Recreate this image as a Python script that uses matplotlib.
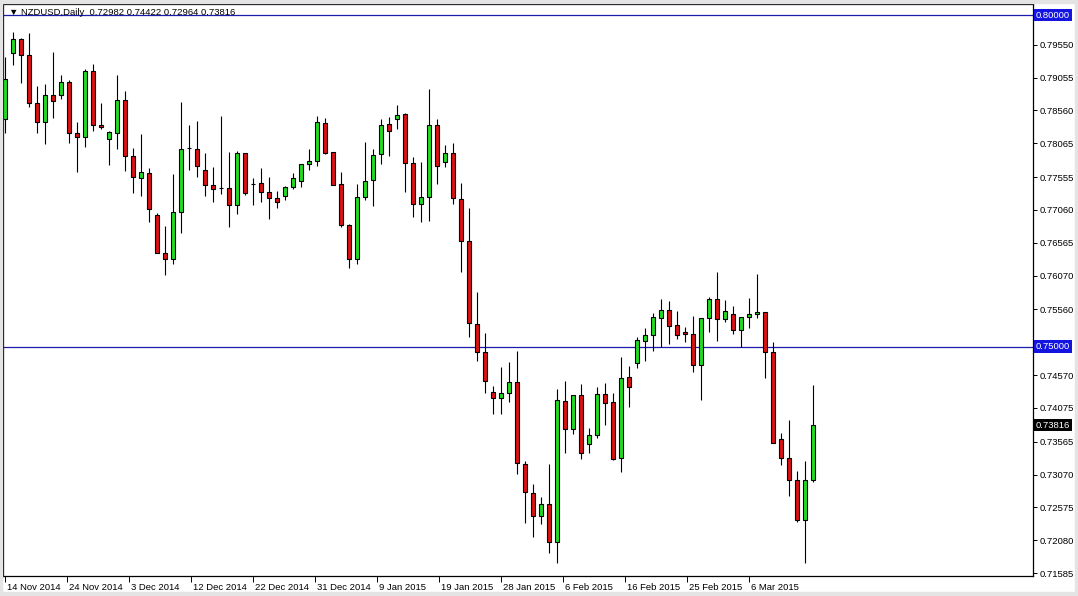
import numpy as np
import matplotlib
matplotlib.use('Agg')
from matplotlib import pyplot as plt
from matplotlib import transforms
from matplotlib.patches import Rectangle

plt.rcParams['font.family'] = ['Liberation Sans', 'DejaVu Sans']

# NZDUSD daily candles, 14 Nov 2014 .. 12 Mar 2015
opens = [0.78427, 0.79422, 0.79634, 0.79392, 0.78668, 0.78382, 0.78789, 0.78789, 0.78985, 0.78216,
         0.78156, 0.79151, 0.78337, 0.78126, 0.78216, 0.78714, 0.77869, 0.77537, 0.77613, 0.76979,
         0.76416, 0.76316, 0.77025, 0.77990, 0.77975, 0.77658, 0.77432, 0.77387, 0.77387, 0.77130,
         0.77914, 0.77456, 0.77462, 0.77326, 0.77240, 0.77266, 0.77411, 0.77492, 0.77749, 0.77798,
         0.78367, 0.77930, 0.77447, 0.76829, 0.76325, 0.77251, 0.77507, 0.77899, 0.78352, 0.78427,
         0.78503, 0.77764, 0.77145, 0.77251, 0.78337, 0.77779, 0.77914, 0.77221, 0.76587, 0.75340,
         0.74914, 0.74310, 0.74220, 0.74295, 0.74461, 0.73229, 0.72787, 0.72449, 0.72621, 0.72057,
         0.74179, 0.73761, 0.74265, 0.73526, 0.73662, 0.74280, 0.74159, 0.73312, 0.74536, 0.74745,
         0.75079, 0.75170, 0.75426, 0.75547, 0.75321, 0.75215, 0.75185, 0.74727, 0.75426, 0.75713,
         0.75411, 0.75487, 0.75245, 0.75441, 0.75487, 0.75517, 0.74914, 0.73602, 0.73315, 0.72983,
         0.72389, 0.72982]
highs = [0.79362, 0.79744, 0.79649, 0.79724, 0.78929, 0.78955, 0.79438, 0.79095, 0.79015, 0.78382,
         0.79181, 0.79261, 0.78668, 0.78246, 0.79095, 0.78854, 0.77990, 0.78201, 0.77688, 0.77010,
         0.76818, 0.77598, 0.78684, 0.78337, 0.78397, 0.77914, 0.77703, 0.78472, 0.77930, 0.77945,
         0.77914, 0.77537, 0.77688, 0.77553, 0.77341, 0.77421, 0.77613, 0.77749, 0.77975, 0.78477,
         0.78442, 0.77939, 0.77628, 0.76848, 0.77447, 0.78080, 0.77975, 0.78427, 0.78466, 0.78638,
         0.78518, 0.77863, 0.77779, 0.78880, 0.78427, 0.78035, 0.78065, 0.77462, 0.77085, 0.75818,
         0.75200, 0.74410, 0.74692, 0.74763, 0.74933, 0.73279, 0.72923, 0.72731, 0.73229, 0.74356,
         0.74481, 0.74274, 0.74431, 0.73767, 0.74395, 0.74446, 0.74295, 0.74838, 0.74707, 0.75140,
         0.75275, 0.75502, 0.75713, 0.75683, 0.75532, 0.75291, 0.75456, 0.75426, 0.75743, 0.76120,
         0.75698, 0.75607, 0.75441, 0.75728, 0.76090, 0.75517, 0.75073, 0.73692, 0.73888, 0.73119,
         0.73270, 0.74422]
lows = [0.78216, 0.79246, 0.78979, 0.78608, 0.78225, 0.78050, 0.78451, 0.78738, 0.78065, 0.77637,
        0.78005, 0.78246, 0.78276, 0.77743, 0.77975, 0.77652, 0.77320, 0.77275, 0.76874, 0.76406,
        0.76075, 0.76241, 0.76708, 0.77667, 0.77553, 0.77275, 0.77185, 0.77296, 0.76799, 0.76995,
        0.77281, 0.77130, 0.77173, 0.76919, 0.77085, 0.77206, 0.77372, 0.77402, 0.77658, 0.77727,
        0.77904, 0.77432, 0.76808, 0.76180, 0.76241, 0.77206, 0.77124, 0.77749, 0.77869, 0.78276,
        0.77335, 0.76949, 0.76874, 0.76898, 0.77447, 0.77703, 0.77145, 0.76129, 0.75140, 0.74787,
        0.74295, 0.73983, 0.73978, 0.74169, 0.73074, 0.72335, 0.72133, 0.72324, 0.71892, 0.71741,
        0.73400, 0.73677, 0.73309, 0.73400, 0.73626, 0.73817, 0.73289, 0.73113, 0.74093, 0.74677,
        0.74787, 0.74938, 0.74998, 0.75043, 0.75119, 0.75064, 0.74621, 0.74199, 0.75224, 0.75088,
        0.75366, 0.75185, 0.74989, 0.75275, 0.75426, 0.74521, 0.73541, 0.73210, 0.72751, 0.72350,
        0.71741, 0.72964]
closes = [0.79030, 0.79634, 0.79392, 0.78668, 0.78382, 0.78789, 0.78703, 0.78985, 0.78216, 0.78156,
          0.79151, 0.78337, 0.78307, 0.78231, 0.78714, 0.77869, 0.77553, 0.77628, 0.77070, 0.76416,
          0.76316, 0.77025, 0.77975, 0.77990, 0.77718, 0.77432, 0.77372, 0.77387, 0.77130, 0.77914,
          0.77311, 0.77456, 0.77326, 0.77236, 0.77176, 0.77411, 0.77537, 0.77749, 0.77798, 0.78382,
          0.77914, 0.77441, 0.76838, 0.76325, 0.77251, 0.77492, 0.77884, 0.78337, 0.78246, 0.78488,
          0.77764, 0.77145, 0.77251, 0.78337, 0.77718, 0.77914, 0.77233, 0.76587, 0.75351, 0.74914,
          0.74476, 0.74220, 0.74295, 0.74461, 0.73240, 0.72802, 0.72449, 0.72621, 0.72057, 0.74190,
          0.73761, 0.74265, 0.73400, 0.73662, 0.74280, 0.74144, 0.73309, 0.74521, 0.74383, 0.75092,
          0.75170, 0.75441, 0.75547, 0.75306, 0.75170, 0.75185, 0.74727, 0.75426, 0.75713, 0.75411,
          0.75532, 0.75245, 0.75441, 0.75487, 0.75517, 0.74914, 0.73541, 0.73315, 0.72983, 0.72389,
          0.72983, 0.73816]

date_labels = ['14 Nov 2014', '24 Nov 2014', '3 Dec 2014', '12 Dec 2014', '22 Dec 2014',
               '31 Dec 2014', '9 Jan 2015', '19 Jan 2015', '28 Jan 2015', '6 Feb 2015',
               '16 Feb 2015', '25 Feb 2015', '6 Mar 2015']
price_ticks = [0.79550, 0.79055, 0.78560, 0.78065, 0.77555, 0.77060, 0.76565, 0.76070,
               0.75560, 0.75065, 0.74570, 0.74075, 0.73565, 0.73070, 0.72575, 0.72080, 0.71585]
hidden_ticks = [0.75065]   # covered by the 0.75000 line label
hlines = [0.80000, 0.75000]
title = '\u25bc NZDUSD,Daily  0.72982 0.74422 0.72964 0.73816'

W, H = 1078, 596
fig = plt.figure(figsize=(W / 100, H / 100), dpi=100)
fig.patch.set_facecolor('white')
# window frame strips
for (x0, y0, w, h) in [(0, 592, W, 4), (0, 0, W, 3), (0, 0, 2, H), (1075, 0, 3, H)]:
    fig.patches.append(Rectangle((x0 / W, 1 - (y0 + h) / H), w / W, h / H,
                                 transform=fig.transFigure, color='#e4e4e4', zorder=0))

ax = fig.add_axes([3 / W, 20 / H, 1030 / W, 572 / H])
ax.set_facecolor('white')

o = np.array(opens)
hi = np.array(highs)
lo = np.array(lows)
c = np.array(closes)
x = np.arange(len(o))

colors = np.where(c > o, '#22dd22', np.where(c < o, '#dd1111', 'black'))
ax.vlines(x, lo, hi, color='black', lw=0.8, zorder=2)
ax.bar(x, np.abs(c - o), bottom=np.minimum(o, c), width=0.6, color=colors,
       edgecolor='black', linewidth=0.8, zorder=3)

for v in hlines:
    ax.axhline(v, color='#1c1caa', lw=0.9, zorder=1)

ax.set_xlim(-0.25, 128.5)
ax.set_ylim(0.71540, 0.80166)

for s in ax.spines.values():
    s.set_color('black')
    s.set_linewidth(0.9)

ax.yaxis.tick_right()
ax.set_yticks(price_ticks)
ax.set_yticklabels(['' if v in hidden_ticks else '%.5f' % v for v in price_ticks])
ax.tick_params(axis='y', direction='out', length=3, width=0.7, pad=2,
               labelsize=6.8, colors='black')

ax.set_xticks([7.75 * k for k in range(len(date_labels))])
ax.set_xticklabels(date_labels)
ax.tick_params(axis='x', direction='out', length=4, width=0.7, pad=1,
               labelsize=6.8, colors='black')
shift = transforms.ScaledTranslation(2 / 100, 0, fig.dpi_scale_trans)
for lab in ax.get_xticklabels():
    lab.set_horizontalalignment('left')
    lab.set_transform(lab.get_transform() + shift)

# price boxes at the right
bt = transforms.blended_transform_factory(ax.transAxes, ax.transData)
off = transforms.ScaledTranslation(3 / 100, 0, fig.dpi_scale_trans)
for v in hlines:
    ax.text(1.0, v, '%.5f' % v, transform=bt + off, va='center', ha='left',
            fontsize=6.8, color='white', clip_on=False, zorder=10,
            bbox=dict(boxstyle='square,pad=0.2', fc='#1414e0', ec='none'))
ax.text(1.0, closes[-1], '%.5f' % closes[-1], transform=bt + off, va='center',
        ha='left', fontsize=6.8, color='white', clip_on=False, zorder=10,
        bbox=dict(boxstyle='square,pad=0.2', fc='black', ec='none'))

fig.text(9 / W, 1 - 12.5 / H, title, fontsize=6.8, va='center', ha='left', color='black')

fig.savefig('out.png', dpi=100, facecolor='white')
